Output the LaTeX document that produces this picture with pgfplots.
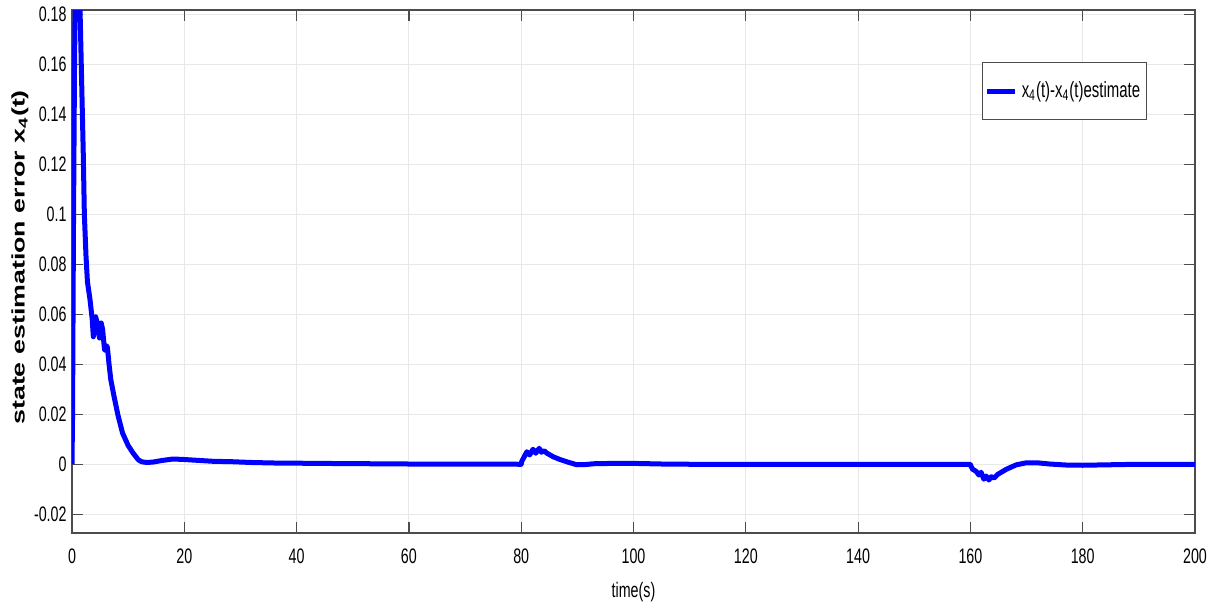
\documentclass[border=0pt]{standalone}
\usepackage{graphicx}
\usepackage{fontspec}
\setmainfont[FakeStretch=0.68]{Liberation Sans}
\newfontfamily\labelfont{Liberation Sans}
\usepackage{pgfplots}
\pgfplotsset{compat=1.18}
\definecolor{framegray}{gray}{0.30}
\definecolor{gridgray}{gray}{0.91}
\begin{document}
\begin{tikzpicture}
\begin{axis}[
  scale only axis,
  width=561.5pt, height=261.5pt,
  xmin=0, xmax=200,
  ymin=-0.0275, ymax=0.1817,
  xtick={0,20,40,60,80,100,120,140,160,180,200},
  ytick={-0.02,0,0.02,0.04,0.06,0.08,0.1,0.12,0.14,0.16,0.18},
  scaled y ticks=false,
  yticklabel style={/pgf/number format/fixed, /pgf/number format/precision=2, inner xsep=2.5pt},
  xticklabel style={yshift=-4.5pt},
  /pgf/number format/assume math mode=true,
  every tick label/.append style={font=\fontsize{10.5}{12}\selectfont},
  tick align=inside,
  major tick length=5.5pt,
  tick style={framegray, line width=0.6pt},
  axis line style={framegray, line width=0.6pt},
  grid=major,
  major grid style={gridgray, line width=0.5pt},
  xlabel={time(s)},
  xlabel style={at={(rel axis cs:0.5,0)}, anchor=center, yshift=-29.5pt,
    font=\fontsize{10.5}{12}\selectfont},
  ylabel={\scalebox{1}[0.68]{\labelfont\bfseries\fontsize{13.4}{15}\selectfont state estimation error x\textsubscript{4}(t)}},
  ylabel style={at={(axis description cs:-0.0463,0.527)}, anchor=center},
  legend style={at={(0.957,0.9006)}, anchor=north east, draw=framegray,
    line width=0.6pt, inner xsep=1pt, inner ysep=7.5pt,
    font=\fontsize{11}{12}\selectfont, legend cell align=left},
  legend image code/.code={\draw[#1] (0pt,0pt) -- (14pt,0pt);},
]
\addplot[blue, line width=2.5pt, line join=round] coordinates {
(0,0) (0.1,0.02) (0.25,0.09) (0.45,0.16) (0.6,0.19) (0.8,0.205) (1.0,0.21)
(1.2,0.2) (1.45,0.18) (1.7,0.155) (2.0,0.125) (2.2,0.1) (2.5,0.083)
(2.75,0.073) (3.2,0.066) (3.6,0.058) (3.8,0.051) (4.0,0.055) (4.2,0.059)
(4.45,0.057) (4.7,0.053) (4.9,0.0505) (5.2,0.0565) (5.45,0.054) (5.8,0.0456)
(6.1,0.0475) (6.3,0.0468) (6.6,0.040) (6.9,0.034) (7.5,0.027) (8.2,0.0195)
(9.0,0.0125) (10.0,0.0075) (10.9,0.0044) (11.8,0.0018) (12.4,0.001)
(13.3,0.0007) (14.5,0.0009) (16,0.0015) (18,0.0021) (20,0.0019)
(22.8,0.0015) (25,0.0012) (28.7,0.001) (32,0.0007) (36,0.0005)
(46.5,0.0003) (60,0.0001) (80,0)
(80.1,0.0012) (80.4,0.0024) (81.0,0.005) (81.5,0.0037) (82.1,0.006)
(82.6,0.0044) (83.2,0.0064) (83.6,0.0048) (84.1,0.0054) (84.6,0.0044)
(85.7,0.003) (86.9,0.0019) (88.1,0.001) (89.9,-0.0002) (91.5,-0.0001)
(92.9,0.0002) (97.6,0.0004) (101,0.0003) (105,0.0001) (110,0) (160,0)
(160.1,-0.0008) (160.4,-0.002) (161.0,-0.0028) (161.5,-0.0043) (161.9,-0.0032)
(162.4,-0.006) (162.8,-0.0047) (163.3,-0.0063) (163.7,-0.005) (164.2,-0.0055)
(164.9,-0.004) (166.4,-0.002) (168.2,-0.0002) (170,0.0006) (171.8,0.0006)
(174.1,0.0001) (177,-0.0003) (180,-0.0004) (185,-0.0002) (190,0) (200,0)
};
\addlegendentry{x\textsubscript{4}(t)-x\textsubscript{4}(t)estimate}
\end{axis}
\path (current axis.south west) ++(-36pt,-37.5pt) rectangle ++(0.1pt,0.1pt);
\path (current axis.north east) ++(9.5pt,5pt) rectangle ++(-0.1pt,-0.1pt);
\end{tikzpicture}
\end{document}
